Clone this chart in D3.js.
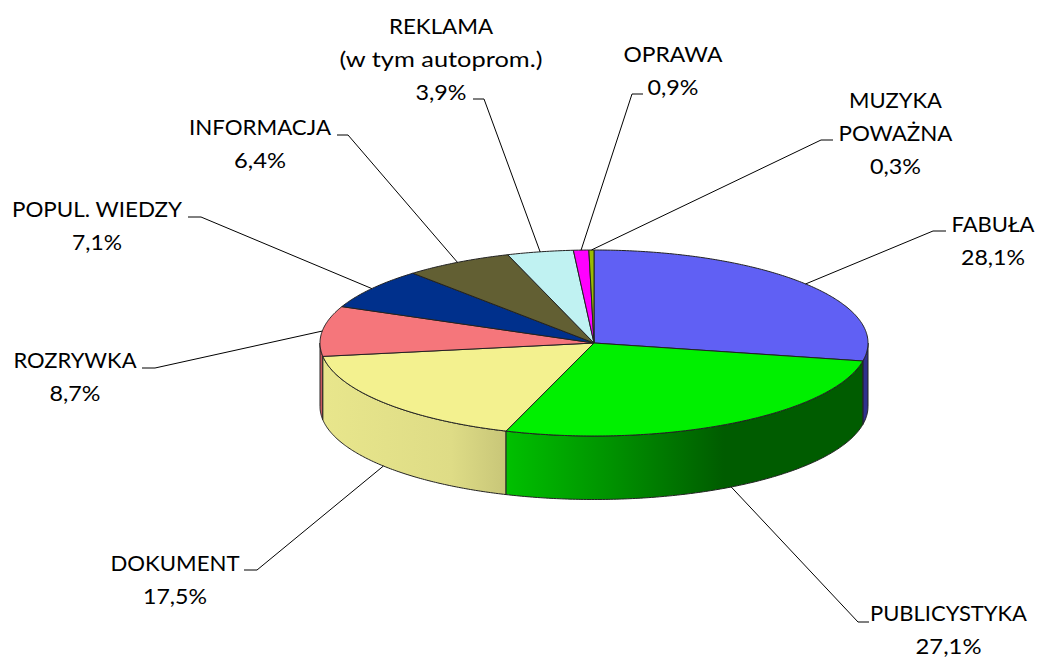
<!DOCTYPE html>
<html><head><meta charset="utf-8"><script src="https://cdn.jsdelivr.net/npm/d3@7"></script>
<style>html,body{margin:0;background:#fff}svg{display:block}text{font-family:Lato,"Open Sans",sans-serif;font-size:21.5px;fill:#000}</style>
</head><body><script>
const categories=["FABUŁA","PUBLICYSTYKA","DOKUMENT","ROZRYWKA","POPUL. WIEDZY","INFORMACJA","REKLAMA","OPRAWA","MUZYKA"];
const values=[28.1,27.1,17.5,8.7,7.1,6.4,3.9,0.9,0.3];
const valueLabels=["28,1%","27,1%","17,5%","8,7%","7,1%","6,4%","3,9%","0,9%","0,3%"];
const labelLines=[["FABUŁA"],["PUBLICYSTYKA"],["DOKUMENT"],["ROZRYWKA"],["POPUL. WIEDZY"],["INFORMACJA"],["REKLAMA","(w tym autoprom.)"],["OPRAWA"],["MUZYKA","POWAŻNA"]];
const labelWidths=[[83],[157],[129],[123],[170],[142],[104,203],[99],[93,114]];
const valueWidths=[64,66,64,51,50,52,51,51,51];
const topColors=["#6060f4","#00f000","#f3f18f","#f5767b","#00308c","#625f33","#c0f2f2","#ff00ff","#99bb00"];
const sideLeft=["#26266a","#00c000","#e8e68c","#c85a60","#00246a","#4a4826","#90b8b8","#c000c0","#708800"];
const sideMid=["#28286e","#009000","#dedc86","#d46268","#00246a","#4a4826","#90b8b8","#c000c0","#708800"];
const sideRight=["#30308c","#005c00","#c8c678","#e06a70","#00246a","#4a4826","#90b8b8","#c000c0","#708800"];
const labelX=[993,948.5,175,75,97,260,441,673,895.5];
const baseY=[232,621,571,367.5,217,135,34,62,108];
const elbowX=[[933,946],[858,869],[257,244],[155,142],[201,188],[348,337],[484,473],[632,643],[821,833]];
const elbowY=[231,622,570,368,217,135,99,94,140];

const W=1041,H=659,cx=594,cy=343,rx=274,ry=93,depth=63.5,lineH=33;
const svg=d3.select("body").append("svg").attr("width",W).attr("height",H);
const defs=svg.append("defs");
const arcs=d3.pie().sort(null).value(d=>d)(values);
const px=a=>rx*Math.sin(a), py=a=>-ry*Math.cos(a);
arcs.forEach((d,i)=>{
  const x0=Math.min(px(d.startAngle),px(d.endAngle)), x1=Math.max(px(d.startAngle),px(d.endAngle));
  const g=defs.append("linearGradient").attr("id","g"+i).attr("gradientUnits","userSpaceOnUse")
    .attr("x1",cx+(i===1?-88:x0)).attr("x2",cx+(i===1?130:(i===2?-88:x1))).attr("y1",0).attr("y2",0);
  g.append("stop").attr("offset",0).attr("stop-color",sideLeft[i]);
  g.append("stop").attr("offset",i===2?0.7:0.5).attr("stop-color",sideMid[i]);
  g.append("stop").attr("offset",1).attr("stop-color",sideRight[i]);
});
function ellipseArc(p,a0,a1,dy){
  const n=Math.max(2,Math.ceil(Math.abs(a1-a0)/0.01));
  d3.range(n+1).forEach(k=>{const a=a0+(a1-a0)*k/n;p.lineTo(cx+px(a),cy+dy+py(a));});
}
const g=svg.append("g");
const order=[...arcs.keys()].filter(i=>arcs[i].endAngle>Math.PI/2&&arcs[i].startAngle<3*Math.PI/2);
order.sort((a,b)=>Math.abs((arcs[b].startAngle+arcs[b].endAngle)/2-Math.PI)-Math.abs((arcs[a].startAngle+arcs[a].endAngle)/2-Math.PI));
order.forEach(i=>{
  const a0=Math.max(arcs[i].startAngle,Math.PI/2),a1=Math.min(arcs[i].endAngle,3*Math.PI/2);
  const p=d3.path();p.moveTo(cx+px(a0),cy+py(a0));
  ellipseArc(p,a0,a1,0);ellipseArc(p,a1,a0,depth);p.closePath();
  g.append("path").attr("d",p.toString()).attr("fill",`url(#g${i})`).attr("stroke","#222").attr("stroke-width",1).attr("stroke-linejoin","round");
});
arcs.forEach((d,i)=>{
  const p=d3.path();p.moveTo(cx,cy);
  p.lineTo(cx+px(d.startAngle),cy+py(d.startAngle));
  ellipseArc(p,d.startAngle,d.endAngle,0);p.closePath();
  g.append("path").attr("d",p.toString()).attr("fill",topColors[i]).attr("stroke","#222").attr("stroke-width",1).attr("stroke-linejoin","round");
});
arcs.forEach((d,i)=>{
  const m=(d.startAngle+d.endAngle)/2;
  const front=m>Math.PI/2&&m<3*Math.PI/2;
  const x0=cx+px(m),y0=cy+py(m)+(front?depth:0);
  svg.append("polyline").attr("fill","none").attr("stroke","#000").attr("stroke-width",1)
    .attr("points",[[x0,y0],[elbowX[i][0],elbowY[i]],[elbowX[i][1],elbowY[i]]].map(q=>q.join(",")).join(" "));
  const lines=[...labelLines[i],valueLabels[i]];
  const widths=[...labelWidths[i],valueWidths[i]];
  lines.forEach((s,k)=>svg.append("text").attr("text-anchor","middle")
    .attr("x",labelX[i]).attr("y",baseY[i]+k*lineH)
    .attr("textLength",widths[k]).attr("lengthAdjust","spacingAndGlyphs").text(s));
});
</script></body></html>
